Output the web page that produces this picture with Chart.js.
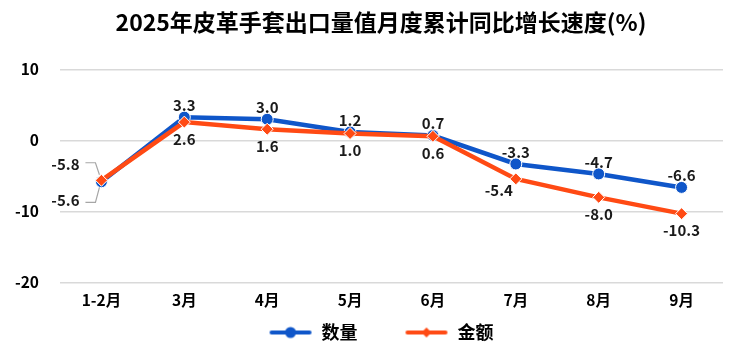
<!DOCTYPE html>
<html lang="zh">
<head>
<meta charset="UTF-8" />
<title>2025年皮革手套出口量值月度累计同比增长速度(%)</title>
<script src="https://cdn.jsdelivr.net/npm/chart.js"></script>
<style>
  html, body { margin: 0; padding: 0; background: #fff; }
  #wrap { width: 750px; height: 353px; }
</style>
</head>
<body>
<div id="wrap"><canvas id="chart"></canvas></div>
<script>
  var categories = ['1-2月', '3月', '4月', '5月', '6月', '7月', '8月', '9月'];
  var quantity = [-5.8, 3.3, 3.0, 1.2, 0.7, -3.3, -4.7, -6.6];
  var amount = [-5.6, 2.6, 1.6, 1.0, 0.6, -5.4, -8.0, -10.3];
  var yTicks = [10, 0, -10, -20];

  var BLUE = '#0f56c9';
  var ORANGE = '#ff4a14';
  var FONT = '"Noto Sans CJK SC", "Noto Sans", sans-serif';

  // legend swatch: line with marker in the middle
  function swatch(color, shape) {
    var c = document.createElement('canvas');
    c.width = 44; c.height = 14;
    var g = c.getContext('2d');
    g.strokeStyle = color; g.lineWidth = 4; g.lineCap = 'round';
    g.beginPath(); g.moveTo(3, 7); g.lineTo(41, 7); g.stroke();
    g.fillStyle = color;
    g.beginPath();
    if (shape === 'circle') {
      g.arc(22, 7, 5.5, 0, Math.PI * 2);
    } else {
      g.moveTo(22, 2); g.lineTo(27, 7); g.lineTo(22, 12); g.lineTo(17, 7); g.closePath();
    }
    g.fill();
    return c;
  }

  // where each label sits relative to its point
  var labelSide = [
    ['lead-up', 'above', 'above', 'above', 'above', 'above', 'above', 'above'],
    ['lead-down', 'below', 'below', 'below', 'below', 'left-below', 'below', 'below']
  ];

  var valueLabels = {
    id: 'valueLabels',
    afterDatasetsDraw: function (chart) {
      var ctx = chart.ctx;
      ctx.save();
      ctx.font = 'bold 15px ' + FONT;
      ctx.fillStyle = '#1a1a1a';
      ctx.textAlign = 'center';
      ctx.textBaseline = 'middle';
      chart.data.datasets.forEach(function (ds, di) {
        chart.getDatasetMeta(di).data.forEach(function (pt, i) {
          var txt = ds.data[i].toFixed(1);
          var side = labelSide[di][i];
          var x = pt.x, y = pt.y;
          if (side === 'above') {
            ctx.fillText(txt, x, y - 12);
          } else if (side === 'below') {
            ctx.fillText(txt, x, y + 17);
          } else if (side === 'left-below') {
            ctx.fillText(txt, x - 17, y + 11);
          } else {
            var up = side === 'lead-up';
            var ly = up ? y - 17 : y + 20;
            ctx.fillText(txt, x - 36, ly);
            ctx.strokeStyle = '#a6a6a6';
            ctx.lineWidth = 1.2;
            ctx.beginPath();
            ctx.moveTo(x - 16, up ? ly - 2 : ly + 2);
            ctx.lineTo(x - 6, up ? ly - 2 : ly + 2);
            ctx.lineTo(x - 2, up ? y - 7 : y + 7);
            ctx.stroke();
          }
        });
      });
      ctx.restore();
    }
  };

  new Chart(document.getElementById('chart'), {
    type: 'line',
    data: {
      labels: categories,
      datasets: [{
        label: '数量',
        data: quantity,
        order: 1,
        borderColor: BLUE,
        backgroundColor: BLUE,
        borderWidth: 4.5,
        pointStyle: 'circle',
        pointRadius: 6,
        pointBorderColor: '#fff',
        pointBorderWidth: 1,
        pointBackgroundColor: BLUE
      }, {
        label: '金额',
        data: amount,
        order: 0,
        borderColor: ORANGE,
        backgroundColor: ORANGE,
        borderWidth: 4.5,
        pointStyle: 'rectRot',
        pointRadius: 6,
        pointBorderColor: '#fff',
        pointBorderWidth: 1,
        pointBackgroundColor: ORANGE
      }]
    },
    options: {
      responsive: true,
      maintainAspectRatio: false,
      animation: false,
      layout: { padding: { left: 12, right: 0, top: 0, bottom: 1.5 } },
      plugins: {
        title: {
          display: true,
          text: '2025年皮革手套出口量值月度累计同比增长速度(%)',
          color: '#000',
          font: { family: FONT, size: 23, weight: 'bold' },
          padding: { top: 8, bottom: 34 }
        },
        legend: {
          position: 'bottom',
          labels: {
            usePointStyle: true,
            pointStyleWidth: 44,
            color: '#000',
            font: { family: FONT, size: 18, weight: 'bold' },
            padding: 11,
            generateLabels: function (chart) {
              return [
                { text: '数量\u3000\u3000', pointStyle: swatch(BLUE, 'circle'), datasetIndex: 0, fontColor: '#000', strokeStyle: 'transparent', lineWidth: 0 },
                { text: '金额', pointStyle: swatch(ORANGE, 'diamond'), datasetIndex: 1, fontColor: '#000', strokeStyle: 'transparent', lineWidth: 0 }
              ];
            }
          }
        },
        tooltip: { enabled: false }
      },
      scales: {
        x: {
          offset: true,
          grid: { display: false, drawTicks: false },
          border: { display: false },
          afterFit: function (axis) { axis.height = 30; },
          ticks: { color: '#000', font: { family: FONT, size: 15.5, weight: 'bold' }, padding: 8 }
        },
        y: {
          min: -20,
          max: 10,
          afterBuildTicks: function (axis) {
            axis.ticks = yTicks.map(function (v) { return { value: v }; });
          },
          afterFit: function (axis) { axis.width = 48; },
          grid: { color: '#d9d9d9', lineWidth: 1.5, drawTicks: false },
          border: { display: false },
          ticks: { color: '#000', font: { family: FONT, size: 15.5, weight: 'bold' }, padding: 21 }
        },
        // empty right-hand spacer so the plot ends where the reference does
        y2: {
          type: 'linear',
          position: 'right',
          grid: { display: false, drawTicks: false },
          border: { display: false },
          ticks: { display: false },
          afterFit: function (axis) { axis.width = 27; }
        }
      }
    },
    plugins: [valueLabels]
  });
</script>
</body>
</html>
